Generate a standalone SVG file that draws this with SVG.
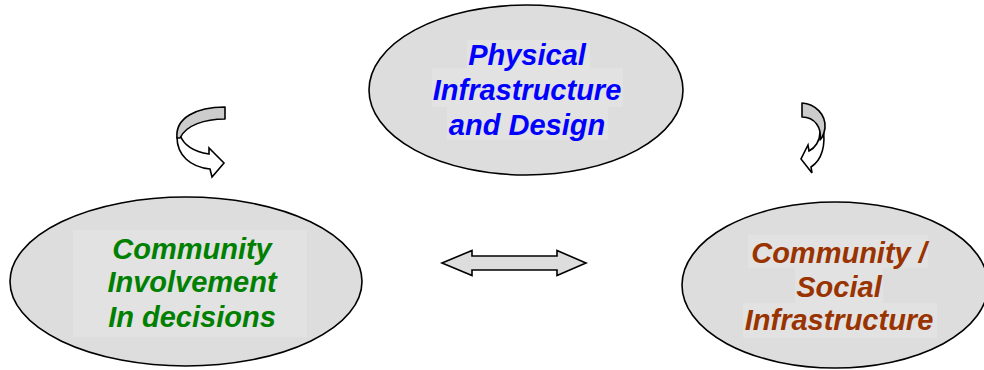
<svg xmlns="http://www.w3.org/2000/svg" width="984" height="370" viewBox="0 0 984 370">
  <style>
    .node { fill: #dddddd; stroke: #000000; stroke-width: 1.6; }
    .pad { fill: #e2e2e2; }
    .label { font-family: "Liberation Sans", Arial, sans-serif; font-size: 29px; font-weight: bold; font-style: italic; text-anchor: middle; }
    .blue { fill: #0000ff; }
    .green { fill: #008000; }
    .brown { fill: #993300; }
    .band-back { fill: #cccccc; stroke: #000000; stroke-width: 1.6; stroke-linejoin: round; }
    .band-front { fill: #ffffff; stroke: #000000; stroke-width: 1.6; stroke-linejoin: miter; }
    .double { fill: #dddddd; stroke: #000000; stroke-width: 1.6; stroke-linejoin: miter; }
  </style>
  <rect width="984" height="370" fill="#ffffff"/>

  <g id="physical-infrastructure">
    <ellipse class="node" cx="526" cy="90" rx="157" ry="85"/>
    <rect class="pad" x="467" y="40" width="123" height="28"/>
    <rect class="pad" x="432" y="68" width="191" height="39"/>
    <rect class="pad" x="447" y="107" width="161" height="33"/>
    <text class="label blue" x="527" y="65">Physical</text>
    <text class="label blue" x="527" y="100">Infrastructure</text>
    <text class="label blue" x="527" y="135">and Design</text>
  </g>

  <g id="community-involvement">
    <ellipse class="node" cx="186" cy="281.5" rx="176" ry="84.5"/>
    <rect class="pad" x="73" y="230" width="234" height="107"/>
    <text class="label green" x="192" y="259">Community</text>
    <text class="label green" x="192" y="292">Involvement</text>
    <text class="label green" x="192" y="327">In decisions</text>
  </g>

  <g id="social-infrastructure">
    <ellipse class="node" cx="835" cy="285" rx="153" ry="83"/>
    <rect class="pad" x="748" y="235" width="180" height="33"/>
    <rect class="pad" x="795" y="268" width="88" height="35"/>
    <rect class="pad" x="743" y="303" width="194" height="35"/>
    <text class="label brown" x="839" y="263">Community /</text>
    <text class="label brown" x="839" y="297">Social</text>
    <text class="label brown" x="839" y="330">Infrastructure</text>
  </g>

  <g id="connectors">
    <!-- curved arrow, left: turning down towards the left node -->
    <path class="band-front" d="M180,135 C184,146 196,152 209,154 L209,148 L224,163 L212,177 L210,169 C190,167 177,155 177,137 Z"/>
    <path class="band-back" d="M225,107 L225,119 C205,119 186,125 180,138 L177,138 C175,118 196,107 225,107 Z"/>

    <!-- curved arrow, right: turning down towards the right node -->
    <path class="band-front" d="M823,128 C826,145 822,160 811,167 L812,173 L801,159 L808,145 L809,151 C815,148 820,141 820,132 Z"/>
    <path class="band-back" d="M802,103 C815,104 826,114 825,128 C824,134 822,138 820,140 C822,128 815,117 802,117 Z"/>

    <!-- double-headed arrow between the lower nodes -->
    <path class="double" d="M442,263 L472,250.5 L472,256 L557,256 L557,250.5 L586,263 L557,275.5 L557,270 L472,270 L472,275.5 Z"/>
  </g>
</svg>
